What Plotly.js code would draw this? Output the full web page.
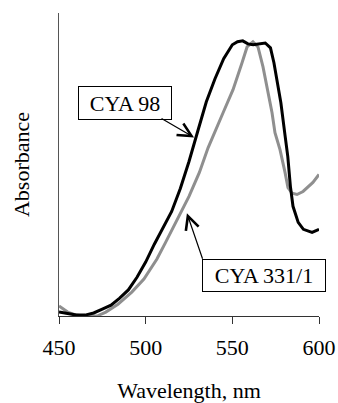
<!DOCTYPE html>
<html>
<head>
<meta charset="utf-8">
<script src="https://cdn.plot.ly/plotly-3.0.1.min.js"></script>
<style>html,body{margin:0;padding:0;background:#fff;}#chart{width:338px;height:403px;}</style>
</head>
<body>
<div id="chart"></div>
<script>
// Wavelength (nm) and absorbance (arbitrary units)
var wavelength98 = [450,455,460,465,470,475,480,485,490,495,500,505,510,515,520,525,530,535,540,545,550,553,556,559,562,566,569,572,574,576,578,580.5,582,583.5,585,588,591,596,600];
var absorb98 = [0.013,0.007,0.003,0.003,0.010,0.023,0.036,0.059,0.086,0.128,0.178,0.237,0.293,0.345,0.421,0.51,0.609,0.707,0.783,0.849,0.895,0.905,0.908,0.898,0.895,0.898,0.901,0.885,0.836,0.770,0.704,0.592,0.526,0.428,0.362,0.309,0.286,0.276,0.286];

var wavelength331 = [450,455,460,464,472,477,484,492,499,506.5,511.5,519.3,525,531,536,544.6,550.4,555.6,558.5,561.9,564.8,567.7,570.6,572.9,574.6,577.5,580.4,582.1,584.5,587.3,590.8,596.5,600];
var absorb331 = [0.033,0.013,0.003,0,0,0.013,0.039,0.079,0.122,0.188,0.243,0.329,0.395,0.474,0.555,0.67,0.747,0.836,0.888,0.905,0.888,0.822,0.737,0.671,0.605,0.549,0.474,0.424,0.405,0.401,0.411,0.441,0.467];

var xTicks = [450,500,550,600];
var seriesNames = ['CYA 98','CYA 331/1'];

var font = 'Liberation Serif, Times New Roman, serif';

var traces = [
  {x: wavelength331, y: absorb331, mode: 'lines', name: seriesNames[1],
   line: {color: '#8f8f8f', width: 3}, cliponaxis: false},
  {x: wavelength98, y: absorb98, mode: 'lines', name: seriesNames[0],
   line: {color: '#000000', width: 3}, cliponaxis: false}
];

var layout = {
  width: 338, height: 403,
  margin: {l: 59, r: 19, t: 13, b: 87},
  paper_bgcolor: '#ffffff', plot_bgcolor: '#ffffff',
  showlegend: false,
  font: {family: font, size: 22, color: '#000'},
  xaxis: {
    range: [450, 600], tickvals: xTicks, ticktext: xTicks.map(String),
    ticks: 'outside', ticklen: 7, tickwidth: 1, tickcolor: '#333',
    ticklabelstandoff: 5,
    showline: true, linecolor: '#333', linewidth: 1,
    showgrid: false, zeroline: false,
    tickfont: {family: font, size: 22, color: '#000'},
    title: {text: 'Wavelength, nm', font: {family: font, size: 22, color: '#000'}, standoff: 27}
  },
  yaxis: {
    range: [0, 1], showticklabels: false, ticks: '',
    showline: true, linecolor: '#555', linewidth: 1,
    showgrid: false, zeroline: false,
    title: {text: 'Absorbance', font: {family: font, size: 22, color: '#000'}, standoff: 22}
  },
  annotations: [
    {xref: 'x', yref: 'y', x: 488.1, y: 0.704, text: seriesNames[0], showarrow: false,
     bordercolor: '#000', borderwidth: 1, bgcolor: '#fff', width: 90, height: 30,
     font: {family: font, size: 22, color: '#000'}},
    {xref: 'x', yref: 'y', x: 568.3, y: 0.133, text: seriesNames[1], showarrow: false,
     bordercolor: '#000', borderwidth: 1, bgcolor: '#fff', width: 120, height: 29,
     font: {family: font, size: 22, color: '#000'}},
    {xref: 'x', yref: 'y', x: 527.9, y: 0.589, axref: 'x', ayref: 'y', ax: 508.3, ay: 0.655,
     text: '', showarrow: true, arrowhead: 5, arrowsize: 2.2, arrowwidth: 1.2, arrowcolor: '#000', standoff: 0},
    {xref: 'x', yref: 'y', x: 523.8, y: 0.339, axref: 'x', ayref: 'y', ax: 533.1, ay: 0.184,
     text: '', showarrow: true, arrowhead: 5, arrowsize: 2.2, arrowwidth: 1.2, arrowcolor: '#000', standoff: 0}
  ]
};

Plotly.newPlot('chart', traces, layout, {staticPlot: true, displayModeBar: false});
</script>
</body>
</html>
